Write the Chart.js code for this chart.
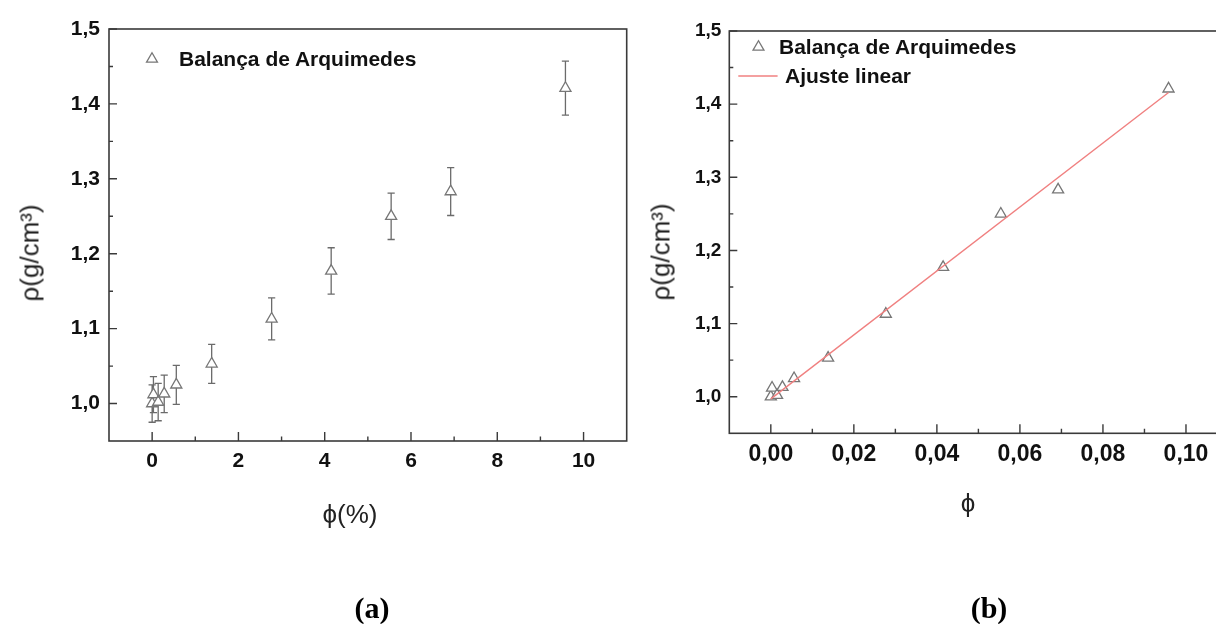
<!DOCTYPE html>
<html>
<head>
<meta charset="utf-8">
<script src="https://cdn.jsdelivr.net/npm/chart.js@4.4.1/dist/chart.umd.min.js"></script>
<style>
html, body { margin: 0; padding: 0; background: #fff; overflow: hidden; }
#wrap { position: relative; width: 1216px; height: 624px; overflow: hidden; }
canvas { position: absolute; top: 0; }
#chartA { left: 0; }
#chartB { left: 640px; }
.title { position: absolute; white-space: nowrap; font: 26px 'Liberation Sans', Arial, sans-serif; color: #222; transform: translate(-50%, -50%); }
.rot { transform: translate(-50%, -50%) rotate(-90deg); }
.leg { position: absolute; white-space: nowrap; font: bold 21px 'Liberation Sans', Arial, sans-serif; color: #111; transform: translateY(-50%); }
.cap { position: absolute; font: bold 30px 'Liberation Serif', 'Times New Roman', serif; color: #000; transform: translate(-50%, -50%); }
</style>
</head>
<body>
<div id="wrap">
  <canvas id="chartA" width="640" height="560"></canvas>
  <canvas id="chartB" width="600" height="560"></canvas>

  <div class="title rot" style="left:30px;top:253px;">ρ(g/cm³)</div>
  <div class="title" style="left:350px;top:514px;">ϕ(%)</div>
  <div class="leg" style="left:179px;top:59px;">Balança de Arquimedes</div>

  <div class="title rot" style="left:661px;top:252px;">ρ(g/cm³)</div>
  <div class="title" style="left:968px;top:503px;">ϕ</div>
  <div class="leg" style="left:779px;top:47px;">Balança de Arquimedes</div>
  <div class="leg" style="left:785px;top:76px;">Ajuste linear</div>

  <div class="cap" style="left:372px;top:608px;">(a)</div>
  <div class="cap" style="left:989px;top:608px;">(b)</div>
</div>

<script>
// --- DATA ---
const phiPct  = [0, 0.03, 0.14, 0.28, 0.56, 1.38, 2.77, 4.15, 5.54, 6.92, 9.58];
const phiFrac = [0, 0.0003, 0.0015, 0.0028, 0.0056, 0.0138, 0.0277, 0.0415, 0.0554, 0.0692, 0.0958];
const rho     = [1.000, 1.012, 1.002, 1.013, 1.025, 1.053, 1.113, 1.177, 1.250, 1.283, 1.421];
const rhoErr  = [0.025, 0.024, 0.025, 0.025, 0.026, 0.026, 0.028, 0.031, 0.031, 0.032, 0.036];
const fitPhi  = [0, 0.0958];
const fitRho  = [0.997, 1.416];

const yTicks       = [1.0, 1.1, 1.2, 1.3, 1.4, 1.5];
const yTickLabels  = ['1,0', '1,1', '1,2', '1,3', '1,4', '1,5'];
const yMinor       = [1.05, 1.15, 1.25, 1.35, 1.45];
const xTicksA      = [0, 2, 4, 6, 8, 10];
const xTickLabelsA = ['0', '2', '4', '6', '8', '10'];
const xMinorA      = [1, 3, 5, 7, 9];
const xTicksB      = [0, 0.02, 0.04, 0.06, 0.08, 0.10];
const xTickLabelsB = ['0,00', '0,02', '0,04', '0,06', '0,08', '0,10'];
const xMinorB      = [0.01, 0.03, 0.05, 0.07, 0.09];

const MARK = '#777';
const AXIS = '#3a3a3a';
const TICKFONT = "'Liberation Sans', Arial, sans-serif";

// --- PLUGINS ---
function framePlugin(xMinor, yMinor) {
    return {
        id: 'frame',
        afterDatasetsDraw(chart) {
            const { ctx, chartArea: a, scales: { x, y } } = chart;
            ctx.save();
            ctx.strokeStyle = AXIS;
            ctx.lineWidth = 1.6;
            ctx.strokeRect(a.left, a.top, a.right - a.left, a.bottom - a.top);
            ctx.lineWidth = 1.4;
            ctx.beginPath();
            x.ticks.forEach(t => { const px = x.getPixelForValue(t.value); ctx.moveTo(px, a.bottom); ctx.lineTo(px, a.bottom - 9); });
            xMinor.forEach(v => { const px = x.getPixelForValue(v); ctx.moveTo(px, a.bottom); ctx.lineTo(px, a.bottom - 4.5); });
            y.ticks.forEach(t => { const py = y.getPixelForValue(t.value); ctx.moveTo(a.left, py); ctx.lineTo(a.left + 8, py); });
            yMinor.forEach(v => { const py = y.getPixelForValue(v); ctx.moveTo(a.left, py); ctx.lineTo(a.left + 4, py); });
            ctx.stroke();
            ctx.restore();
        }
    };
}

const errorBars = {
    id: 'errorBars',
    beforeDatasetsDraw(chart) {
        const { ctx, scales: { x, y } } = chart;
        ctx.save();
        ctx.strokeStyle = '#6b6b6b';
        ctx.lineWidth = 1.3;
        ctx.beginPath();
        phiPct.forEach((v, i) => {
            const px = x.getPixelForValue(v);
            const top = y.getPixelForValue(rho[i] + rhoErr[i]);
            const bot = y.getPixelForValue(rho[i] - rhoErr[i]);
            ctx.moveTo(px, top); ctx.lineTo(px, bot);
            ctx.moveTo(px - 3.6, top); ctx.lineTo(px + 3.6, top);
            ctx.moveTo(px - 3.6, bot); ctx.lineTo(px + 3.6, bot);
        });
        ctx.stroke();
        ctx.restore();
    }
};

function legendMarks(items) {
    return {
        id: 'legendMarks',
        afterDraw(chart) {
            const ctx = chart.ctx;
            ctx.save();
            items.forEach(it => {
                if (it.type === 'tri') {
                    ctx.strokeStyle = MARK; ctx.fillStyle = '#fff'; ctx.lineWidth = 1.3;
                    Chart.helpers.drawPoint(ctx, { pointStyle: 'triangle', radius: 6.3, borderWidth: 1.3, rotation: 0 }, it.x, it.y);
                } else {
                    ctx.strokeStyle = '#f08080'; ctx.lineWidth = 1.4;
                    ctx.beginPath(); ctx.moveTo(it.x, it.y); ctx.lineTo(it.x2, it.y); ctx.stroke();
                }
            });
            ctx.restore();
        }
    };
}

function axisOpts(min, max, ticks, labels, fontSize, padding, fitFn) {
    return {
        type: 'linear', min, max,
        grid: { display: false, drawTicks: false },
        border: { display: false },
        afterBuildTicks: s => { s.ticks = ticks.map(v => ({ value: v })); },
        afterFit: fitFn,
        ticks: {
            autoSkip: false, maxRotation: 0, padding,
            color: '#111',
            font: { family: TICKFONT, size: fontSize, weight: 'bold' },
            callback: (v, i) => labels[i]
        }
    };
}

const pointDataset = xs => ({
    type: 'scatter',
    data: xs.map((v, i) => ({ x: v, y: rho[i] })),
    pointStyle: 'triangle',
    pointRadius: 6.4,
    pointBorderWidth: 1.3,
    borderColor: MARK,
    backgroundColor: '#fff'
});

// --- CHART A ---
new Chart(document.getElementById('chartA'), {
    type: 'scatter',
    data: { datasets: [pointDataset(phiPct)] },
    options: {
        responsive: false, animation: false,
        layout: { padding: { top: 29, right: 13.3, left: 0, bottom: 0 } },
        plugins: { legend: { display: false }, tooltip: { enabled: false } },
        scales: {
            x: axisOpts(-1, 11, xTicksA, xTickLabelsA, 21, 8, s => { s.height = 560 - 441; }),
            y: axisOpts(0.95, 1.5, yTicks, yTickLabels, 21, 9, s => { s.width = 109; })
        }
    },
    plugins: [errorBars, framePlugin(xMinorA, yMinor), legendMarks([{ type: 'tri', x: 152, y: 59 }])]
});

// --- CHART B ---
new Chart(document.getElementById('chartB'), {
    type: 'scatter',
    data: {
        datasets: [
            {
                type: 'line',
                data: fitPhi.map((v, i) => ({ x: v, y: fitRho[i] })),
                borderColor: '#f08080', borderWidth: 1.4,
                pointRadius: 0, fill: false
            },
            pointDataset(phiFrac)
        ]
    },
    options: {
        responsive: false, animation: false,
        layout: { padding: { top: 31, right: 12.5, left: 0, bottom: 0 } },
        plugins: { legend: { display: false }, tooltip: { enabled: false } },
        scales: {
            x: axisOpts(-0.01, 0.11, xTicksB, xTickLabelsB, 23, 8, s => { s.height = 560 - 433.3; }),
            y: axisOpts(0.95, 1.5, yTicks, yTickLabels, 19, 8, s => { s.width = 89.3; })
        }
    },
    plugins: [framePlugin(xMinorB, yMinor), legendMarks([
        { type: 'tri', x: 118.5, y: 47 },
        { type: 'line', x: 98.3, x2: 137.6, y: 76 }
    ])]
});
</script>
</body>
</html>
